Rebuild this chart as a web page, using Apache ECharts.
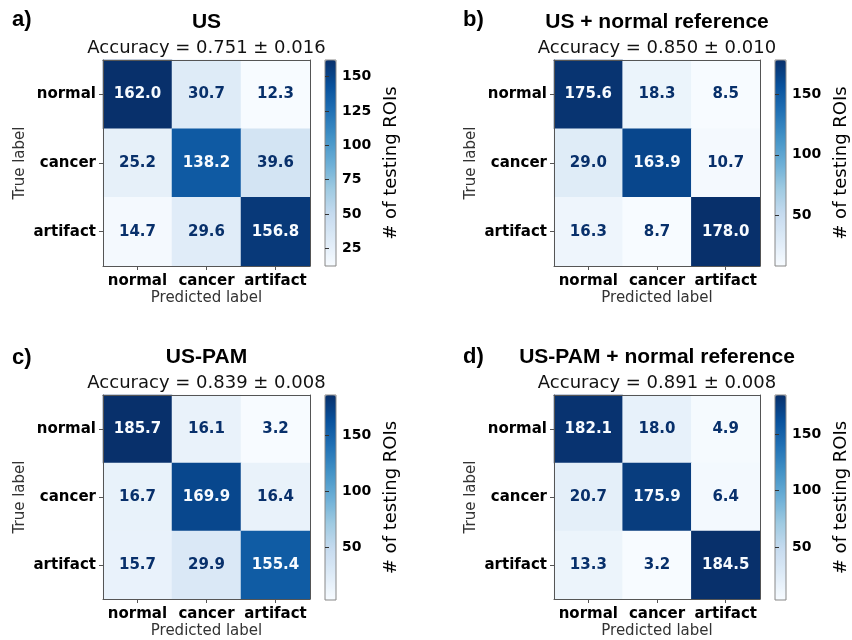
<!DOCTYPE html>
<html><head><meta charset="utf-8">
<script src="https://cdn.jsdelivr.net/npm/echarts@6/dist/echarts.min.js"></script>
<style>html,body{margin:0;padding:0;background:#fff}#c{width:852px;height:640px}</style>
</head><body><div id="c"></div>
<script>
const categories = ['normal', 'cancer', 'artifact'];
const panelLetters = ['a)', 'b)', 'c)', 'd)'];
const panelTitles = ['US', 'US + normal reference', 'US-PAM', 'US-PAM + normal reference'];
const accuracyLabels = ['Accuracy = 0.751 ± 0.016', 'Accuracy = 0.850 ± 0.010', 'Accuracy = 0.839 ± 0.008', 'Accuracy = 0.891 ± 0.008'];
const matrixUS = [[162.0, 30.7, 12.3], [25.2, 138.2, 39.6], [14.7, 29.6, 156.8]];
const matrixUSRef = [[175.6, 18.3, 8.5], [29.0, 163.9, 10.7], [16.3, 8.7, 178.0]];
const matrixUSPAM = [[185.7, 16.1, 3.2], [16.7, 169.9, 16.4], [15.7, 29.9, 155.4]];
const matrixUSPAMRef = [[182.1, 18.0, 4.9], [20.7, 175.9, 6.4], [13.3, 3.2, 184.5]];
const colorbarTicksUS = [25, 50, 75, 100, 125, 150];
const colorbarTicksUSRef = [50, 100, 150];
const colorbarTicksUSPAM = [50, 100, 150];
const colorbarTicksUSPAMRef = [50, 100, 150];
const colorbarLabel = '# of testing ROIs';
const xAxisName = 'Predicted label';
const yAxisName = 'True label';

const matrices = [matrixUS, matrixUSRef, matrixUSPAM, matrixUSPAMRef];
const cbTicks = [colorbarTicksUS, colorbarTicksUSRef, colorbarTicksUSPAM, colorbarTicksUSPAMRef];
const blues = ['#f7fbff', '#deebf7', '#c6dbef', '#9ecae1', '#6baed6', '#4292c6', '#2171b5', '#08519c', '#08306b'];

const layout = [
  {left: 103, top: 60, width: 207, height: 206, cbLeft: 325, letterX: 12, letterY: 20, titleY: 22, accY: 48},
  {left: 554, top: 60, width: 206, height: 206, cbLeft: 775, letterX: 463, letterY: 20, titleY: 22, accY: 48},
  {left: 103, top: 395, width: 207, height: 205, cbLeft: 325, letterX: 12, letterY: 358, titleY: 357, accY: 383},
  {left: 554, top: 395, width: 206, height: 205, cbLeft: 775, letterX: 463, letterY: 357, titleY: 357, accY: 383}
];

const FONT = '"DejaVu Sans", sans-serif';
const grids = [], xAxes = [], yAxes = [], series = [], visualMaps = [], graphics = [];

matrices.forEach((m, i) => {
  const L = layout[i];
  const flat = m.flat();
  const vmin = Math.min(...flat), vmax = Math.max(...flat);
  const thresh = (vmin + vmax) / 2;
  const gi = grids.length;
  grids.push({left: L.left, top: L.top, width: L.width, height: L.height, containLabel: false});
  grids.push({left: L.cbLeft, top: L.top, width: 11, height: L.height, containLabel: false, show: true, z: 10,
    borderColor: '#888', borderWidth: 1, backgroundColor: 'transparent'});
  const xi = xAxes.length, yi = yAxes.length;
  xAxes.push({type: 'category', gridIndex: gi, data: categories, position: 'bottom', z: 10,
    axisLine: {show: true, lineStyle: {color: '#555', width: 1}},
    axisTick: {show: true, alignWithLabel: true, length: 4, lineStyle: {color: '#555'}},
    axisLabel: {color: '#000', fontFamily: FONT, fontWeight: 'bold', fontSize: 15, margin: 8, interval: 0, hideOverlap: false},
    name: xAxisName, nameLocation: 'middle', nameGap: 25,
    nameTextStyle: {color: '#333', fontFamily: FONT, fontSize: 15},
    splitLine: {show: false}});
  xAxes.push({type: 'category', gridIndex: gi, data: categories, position: 'top', z: 10,
    axisLine: {show: true, lineStyle: {color: '#555', width: 1}},
    axisTick: {show: false}, axisLabel: {show: false}, splitLine: {show: false}});
  xAxes.push({type: 'value', gridIndex: gi + 1, show: false, min: 0, max: 1});
  yAxes.push({type: 'category', gridIndex: gi, data: categories, inverse: true, position: 'left', z: 10,
    axisLine: {show: true, lineStyle: {color: '#555', width: 1}},
    axisTick: {show: true, alignWithLabel: true, length: 4, lineStyle: {color: '#555'}},
    axisLabel: {color: '#000', fontFamily: FONT, fontWeight: 'bold', fontSize: 15, margin: 7, interval: 0},
    name: yAxisName, nameLocation: 'middle', nameGap: 75,
    nameTextStyle: {color: '#333', fontFamily: FONT, fontSize: 15},
    splitLine: {show: false}});
  yAxes.push({type: 'category', gridIndex: gi, data: categories, inverse: true, position: 'right', z: 10,
    axisLine: {show: true, lineStyle: {color: '#555', width: 1}},
    axisTick: {show: false}, axisLabel: {show: false}, splitLine: {show: false}});
  yAxes.push({type: 'value', gridIndex: gi + 1, min: vmin, max: vmax, position: 'right', z: 10,
    axisLine: {show: false}, splitLine: {show: false},
    axisTick: {show: true, length: 4, lineStyle: {color: '#333'}, customValues: cbTicks[i]},
    axisLabel: {color: '#000', fontFamily: FONT, fontWeight: 'bold', fontSize: 14, margin: 6, customValues: cbTicks[i]},
    name: colorbarLabel, nameLocation: 'middle', nameRotate: 90, nameGap: 46,
    nameTextStyle: {color: '#000', fontFamily: FONT, fontSize: 18}});
  const data = [];
  m.forEach((row, r) => row.forEach((v, c) => {
    data.push({value: [c, r, v], label: {color: v >= thresh ? '#f7fbff' : '#08306b'}});
  }));
  series.push({type: 'heatmap', xAxisIndex: xi, yAxisIndex: yi, data: data,
    label: {show: true, fontFamily: FONT, fontWeight: 'bold', fontSize: 15,
      formatter: p => p.value[2].toFixed(1)},
    itemStyle: {borderWidth: 0},
    emphasis: {disabled: true}, silent: true});
  visualMaps.push({type: 'continuous', seriesIndex: i, dimension: 2, min: vmin, max: vmax,
    inRange: {color: blues}, calculable: false, hoverLink: false, realtime: false,
    left: L.cbLeft, top: L.top, itemWidth: 11, itemHeight: L.height, padding: 0,
    orient: 'vertical', textGap: 0, text: null});
  const cx = L.left + L.width / 2;
  graphics.push({type: 'text', x: L.letterX, y: L.letterY,
    style: {text: panelLetters[i], font: 'bold 22px "Liberation Sans", Arial, sans-serif', fill: '#000',
      align: 'left', verticalAlign: 'middle'}});
  graphics.push({type: 'text', x: cx, y: L.titleY,
    style: {text: panelTitles[i], font: 'bold 21px "Liberation Sans", Arial, sans-serif', fill: '#000',
      align: 'center', verticalAlign: 'middle'}});
  graphics.push({type: 'text', x: cx, y: L.accY,
    style: {text: accuracyLabels[i], font: '18px "DejaVu Sans", sans-serif', fill: '#111',
      align: 'center', verticalAlign: 'middle'}});
});

const chart = echarts.init(document.getElementById('c'), null, {renderer: 'canvas'});
chart.setOption({
  backgroundColor: '#ffffff',
  animation: false,
  grid: grids, xAxis: xAxes, yAxis: yAxes, series: series, visualMap: visualMaps,
  graphic: graphics
});
</script></body></html>
